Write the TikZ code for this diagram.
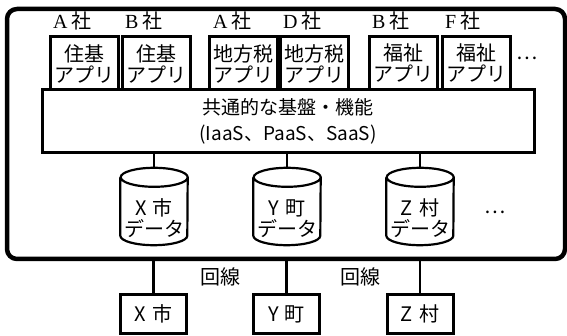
\documentclass[tikz,border=0pt]{standalone}
\usepackage{fontspec}
\setmainfont{Noto Sans CJK JP}
\newfontfamily\latinserif{Liberation Serif}
\begin{document}
\begin{tikzpicture}[x=1pt,y=-1pt,
  every node/.style={font=\fontsize{20pt}{21pt}\selectfont},
  outerbox/.style={draw, line width=4.5pt, rounded corners=10pt},
  appbox/.style={draw, fill=white, line width=3pt, minimum width=68pt, minimum height=53pt, inner sep=0pt, align=center},
  platbox/.style={draw, fill=white, line width=3pt, minimum width=492pt, minimum height=63pt, inner sep=0pt, align=center, font=\fontsize{19pt}{21pt}\selectfont},
  cyllabel/.style={minimum width=67pt, minimum height=77pt, inner sep=0pt, align=center},
  cylline/.style={line width=2.2pt, fill=white},
  townbox/.style={draw, fill=white, line width=3pt, minimum width=66pt, minimum height=38pt, inner sep=0pt},
  conn/.style={line width=2.6pt},
  comp/.style={anchor=west, inner sep=0pt, font=\fontsize{20pt}{21pt}\selectfont},
  plain/.style={inner sep=0pt}
]
\useasboundingbox (0,0) rectangle (567,336);

% outer frame
\node[outerbox, minimum width=558pt, minimum height=250pt, inner sep=0pt] (outer) at (286,134) {};

% platform
\node[platbox] (plat) at (288,121.5) {共通的な基盤・機能\\[5pt](IaaS、PaaS、SaaS)};

% app boxes
\node[appbox] (a1) at (84,63.5) {住基\\アプリ};
\node[appbox] (a2) at (156.5,63.5) {住基\\アプリ};
\node[appbox] (a3) at (243.5,63.5) {地方税\\アプリ};
\node[appbox] (a4) at (314,63.5) {地方税\\アプリ};
\node[appbox] (a5) at (403,63.5) {福祉\\アプリ};
\node[appbox] (a6) at (476.5,63.5) {福祉\\アプリ};
\node[plain] (adots) at (527,58) {…};

% company labels
\node[comp] (l1) at (53,21) {{\latinserif A}\hspace{4pt}社};
\node[comp] (l2) at (125,21) {{\latinserif B}\hspace{4pt}社};
\node[comp] (l3) at (213,21) {{\latinserif A}\hspace{4pt}社};
\node[comp] (l4) at (283,21) {{\latinserif D}\hspace{4pt}社};
\node[comp] (l5) at (372,21) {{\latinserif B}\hspace{4pt}社};
\node[comp] (l6) at (445,21) {{\latinserif F}\hspace{4pt}社};

% cylinders
\foreach \n/\x/\t in {c1/154/X, c2/287/Y, c3/420/Z}{
  \node[cyllabel] (\n) at (\x,206.5) {};
  \draw[conn] (plat.south -| \n.north) -- (\n.north);
  \draw[cylline] ([yshift=-9.5pt]\n.north west) -- ([yshift=9.5pt]\n.south west)
     arc[start angle=180, end angle=360, x radius=33.5pt, y radius=9.5pt]
     -- ([yshift=-9.5pt]\n.north east)
     arc[start angle=0, end angle=360, x radius=33.5pt, y radius=9.5pt];
}
\node[plain, align=center] (t1) at ([yshift=-12pt]c1.center) {X\hspace{6pt}市\\データ};
\node[plain, align=center] (t2) at ([yshift=-12pt]c2.center) {Y\hspace{6pt}町\\データ};
\node[plain, align=center] (t3) at ([yshift=-12pt]c3.center) {Z\hspace{6pt}村\\データ};
\node[plain] (cdots) at (495,212) {…};

% towns
\node[townbox] (tx) at (153.5,314) {X\hspace{6pt}市};
\node[townbox] (ty) at (286.5,314) {Y\hspace{6pt}町};
\node[townbox] (tz) at (420,314) {Z\hspace{6pt}村};
\draw[conn] (outer.south -| tx.north) -- (tx.north);
\draw[conn] (outer.south -| ty.north) -- (ty.north);
\draw[conn] (outer.south -| tz.north) -- (tz.north);
\node[plain] (k1) at (220,277) {回線};
\node[plain] (k2) at (360,277) {回線};
\end{tikzpicture}
\end{document}
